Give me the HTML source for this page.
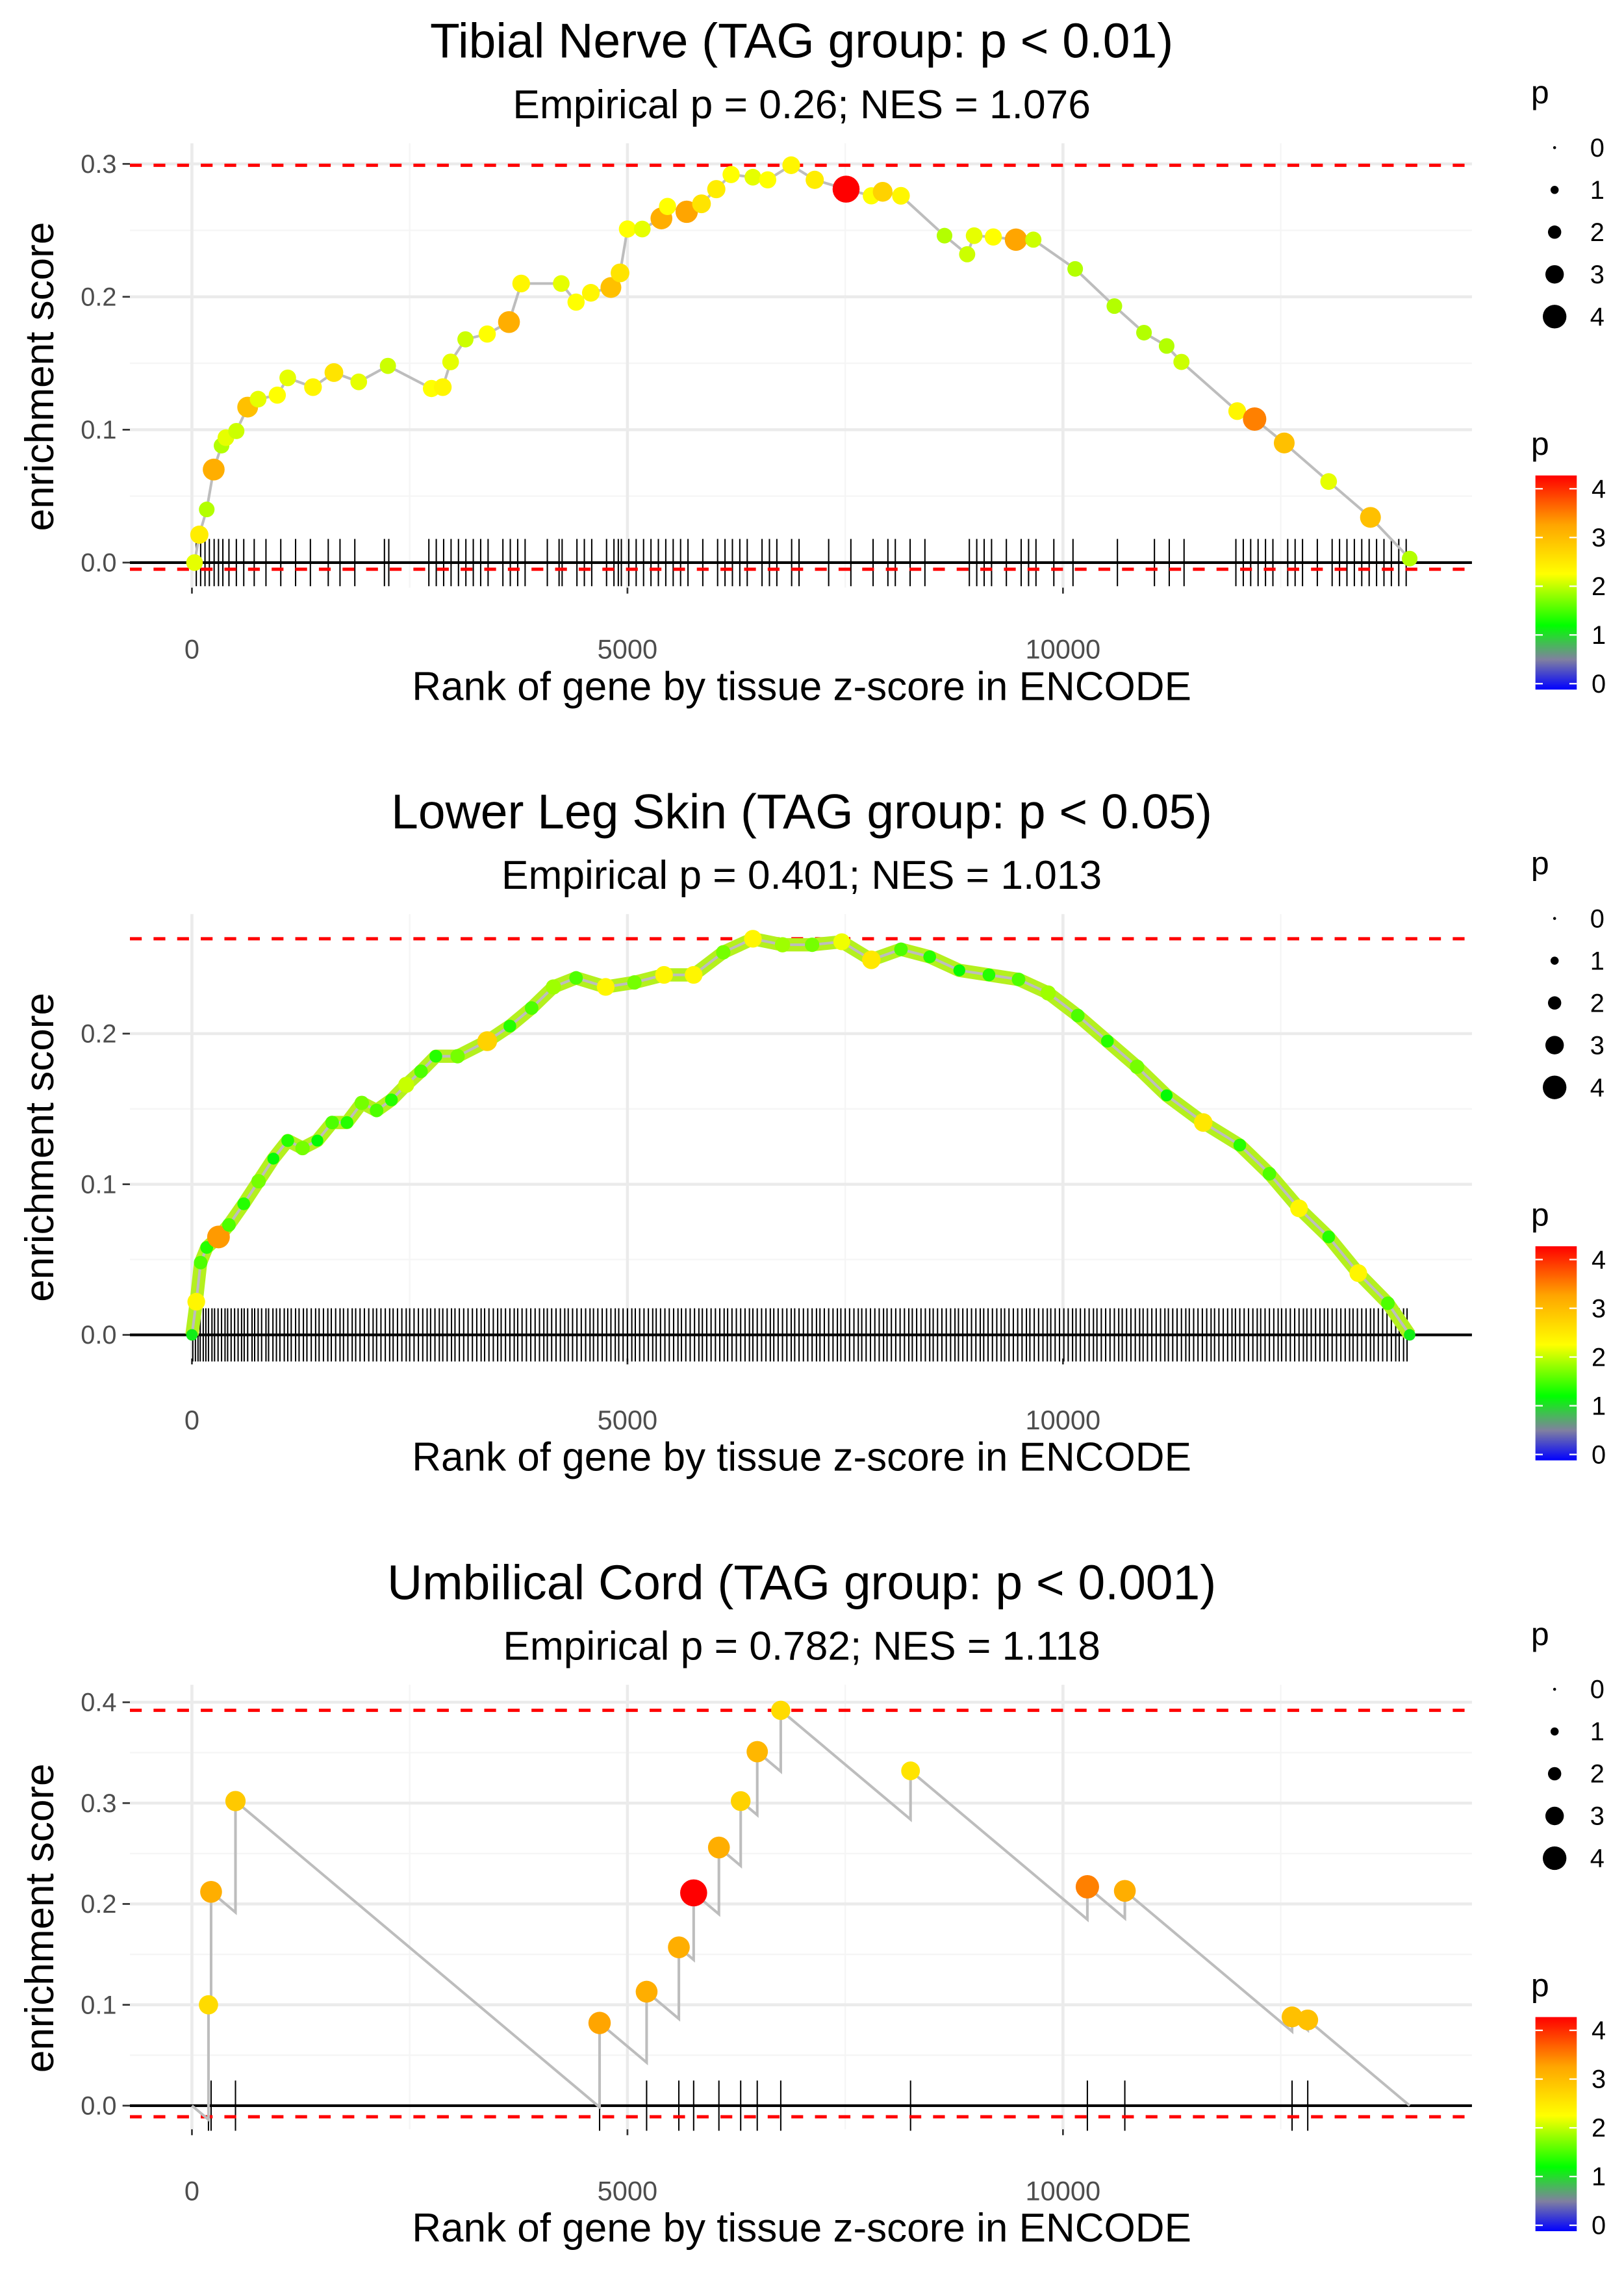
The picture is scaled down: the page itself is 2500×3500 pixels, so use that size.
<!DOCTYPE html>
<html><head><meta charset="utf-8">
<style>
html,body{margin:0;padding:0;background:#fff;}
svg{display:block;font-family:"Liberation Sans",Arial,sans-serif;}
</style></head>
<body>
<svg id="chart" width="2500" height="3500" viewBox="0 0 1100 1540" preserveAspectRatio="none" xmlns="http://www.w3.org/2000/svg">
<defs>
<linearGradient id="pgrad" x1="0" y1="1" x2="0" y2="0">
<stop offset="0" stop-color="#0000ff"/>
<stop offset="0.14" stop-color="#8080a0"/>
<stop offset="0.30" stop-color="#00ff00"/>
<stop offset="0.54" stop-color="#ffff00"/>
<stop offset="0.77" stop-color="#ffa500"/>
<stop offset="1" stop-color="#ff0000"/>
</linearGradient>
</defs>
</svg>
<script>
// ---------- Panel 1: Tibial Nerve ----------
const p1Ranks=[30,85,170,250,340,390,510,640,760,980,1100,1390,1630,1915,2250,2750,2880,2970,3140,3390,3640,3780,4240,4410,4580,4810,4915,5000,5170,5390,5460,5680,5850,6020,6190,6440,6610,6880,7150,7510,7800,7930,8140,8640,8900,8980,9200,9460,9660,10140,10590,10930,11190,11360,12000,12200,12540,13050,13530,13980];
const p1ES=[0.0,0.021,0.04,0.07,0.088,0.094,0.099,0.117,0.123,0.126,0.139,0.132,0.143,0.136,0.148,0.131,0.132,0.151,0.168,0.172,0.181,0.21,0.21,0.196,0.203,0.207,0.218,0.251,0.251,0.259,0.268,0.264,0.27,0.281,0.292,0.29,0.288,0.299,0.288,0.281,0.276,0.279,0.276,0.246,0.232,0.246,0.245,0.243,0.243,0.221,0.193,0.173,0.163,0.151,0.114,0.108,0.09,0.061,0.034,0.003];
const p1P=[2.2,2.5,2.0,3.2,2.0,2.2,2.1,3.0,2.2,2.3,2.2,2.4,2.6,2.2,2.1,2.3,2.4,2.2,2.1,2.3,3.2,2.4,2.2,2.3,2.4,3.0,2.6,2.3,2.2,3.2,2.3,3.3,2.6,2.5,2.3,2.2,2.3,2.4,2.5,4.2,2.3,2.8,2.4,2.0,2.1,2.2,2.3,3.3,2.1,2.0,2.0,2.0,2.0,2.1,2.4,3.5,3.0,2.2,3.0,2.0];
const p1Rug=[50,100,150,200,255,305,355,425,510,595,715,850,1020,1190,1360,1565,1700,1870,2210,2260,2720,2805,2890,2975,3060,3145,3230,3315,3400,3570,3655,3740,3825,4080,4215,4250,4420,4505,4590,4760,4845,4895,4930,5015,5100,5185,5270,5355,5440,5525,5610,5695,5865,6035,6120,6205,6290,6375,6545,6630,6715,6885,6970,7310,7565,7820,7990,8075,8245,8415,8925,9010,9095,9180,9350,9520,9605,9690,9895,10115,10625,11050,11220,11390,11985,12070,12155,12240,12325,12410,12580,12665,12750,12920,13090,13175,13260,13345,13430,13515,13600,13685,13770,13855,13940];
const p1YTicks=[0,0.1,0.2,0.3];
const p1Lines=[0.299,-0.005];

// ---------- Panel 2: Lower Leg Skin ----------
const p2Ranks=[0,50,100,170,305,425,595,765,935,1100,1270,1440,1610,1780,1950,2120,2290,2460,2630,2800,3050,3390,3650,3900,4150,4410,4750,5080,5420,5760,6100,6440,6780,7120,7460,7800,8140,8470,8810,9150,9490,9830,10170,10510,10850,11190,11610,12030,12370,12710,13050,13390,13730,13980];
const p2ES=[0,0.022,0.048,0.058,0.065,0.073,0.087,0.102,0.117,0.129,0.124,0.129,0.141,0.141,0.154,0.149,0.156,0.166,0.175,0.185,0.185,0.195,0.205,0.217,0.231,0.237,0.231,0.234,0.239,0.239,0.254,0.263,0.259,0.259,0.261,0.249,0.256,0.251,0.242,0.239,0.236,0.227,0.212,0.195,0.178,0.159,0.141,0.126,0.107,0.084,0.065,0.041,0.021,0];
const p2P=[1.5,3.0,2.0,1.8,4.2,2.0,1.8,2.2,1.6,1.8,2.2,1.6,2.0,1.8,2.2,2.0,1.8,2.6,2.0,1.8,2.2,3.5,1.8,2.0,2.4,2.0,3.0,2.2,3.0,3.0,2.2,3.0,2.4,2.2,2.8,3.2,2.0,1.8,1.6,1.8,2.0,2.4,2.0,1.8,2.2,1.6,3.2,1.8,2.0,3.0,1.8,3.0,2.0,1.5];
const p2Rug=[10,40,70,95,130,160,190,230,260,300,340,380,410,450,490,530,570,600,640,690,720,760,800,850,880,930,970,1010,1060,1100,1140,1190,1230,1280,1320,1370,1420,1460,1510,1560,1600,1650,1700,1740,1790,1840,1880,1930,1980,2030,2080,2120,2170,2220,2270,2310,2360,2410,2460,2500,2550,2600,2650,2700,2740,2790,2840,2880,2930,2980,3020,3070,3120,3170,3220,3270,3320,3360,3410,3460,3510,3550,3600,3650,3700,3740,3790,3840,3890,3940,3990,4040,4080,4130,4180,4230,4280,4320,4370,4420,4470,4520,4570,4610,4660,4710,4760,4810,4860,4900,4950,5000,5050,5090,5140,5190,5240,5290,5330,5380,5430,5480,5530,5580,5620,5670,5720,5770,5820,5860,5910,5960,6010,6060,6110,6150,6200,6250,6300,6350,6400,6440,6490,6540,6590,6640,6680,6730,6780,6830,6880,6920,6970,7020,7070,7120,7170,7210,7260,7310,7360,7410,7450,7500,7550,7600,7650,7690,7740,7790,7840,7890,7940,7980,8030,8080,8130,8180,8230,8270,8320,8370,8420,8470,8510,8560,8610,8660,8710,8760,8800,8850,8900,8950,9000,9050,9090,9140,9190,9240,9290,9330,9380,9430,9480,9530,9580,9620,9670,9720,9770,9820,9860,9910,9960,10010,10060,10110,10150,10200,10250,10300,10350,10390,10440,10490,10540,10590,10640,10680,10730,10780,10830,10880,10920,10970,11020,11070,11120,11170,11210,11260,11310,11360,11410,11450,11500,11550,11600,11650,11700,11740,11790,11840,11890,11940,11980,12030,12080,12130,12180,12230,12270,12320,12370,12420,12470,12510,12560,12610,12660,12710,12760,12800,12850,12900,12950,13000,13040,13090,13140,13190,13240,13290,13330,13380,13430,13480,13530,13570,13620,13670,13720,13770,13820,13860,13910,13950];
const p2YTicks=[0,0.1,0.2];
const p2Lines=[0.263];

// ---------- Panel 3: Umbilical Cord ----------
const p3Ranks=[190,220,500,4680,5220,5590,5760,6050,6300,6490,6760,8250,10280,10710,12630,12810];
const p3ES=[0.10,0.212,0.302,0.082,0.113,0.157,0.211,0.256,0.302,0.351,0.392,0.332,0.217,0.213,0.088,0.085];
const p3P=[2.7,3.2,2.9,3.3,3.2,3.2,4.2,3.2,2.8,3.1,2.7,2.6,3.5,3.2,3.0,3.0];
const p3Decay=0.0000726;
const p3End=13980;
const p3YTicks=[0,0.1,0.2,0.3,0.4];
const p3Lines=[0.392,-0.011];

const xTicks=[0,5000,10000];
const legendVals=[0,1,2,3,4];

const svg=document.getElementById('chart');
const NS='http://www.w3.org/2000/svg';
function mk(tag,attrs,parent,text){const e=document.createElementNS(NS,tag);for(const k in attrs)e.setAttribute(k,attrs[k]);if(text!==undefined)e.textContent=text;(parent||svg).appendChild(e);return e;}
const stops=[[0,[0,0,255]],[0.6,[128,128,160]],[1.3,[0,255,0]],[2.3,[255,255,0]],[3.3,[255,165,0]],[4.2,[255,0,0]]];
function pcol(p){if(p<=stops[0][0])return 'rgb(0,0,255)';for(let i=1;i<stops.length;i++){if(p<=stops[i][0]){const a=stops[i-1],b=stops[i];const t=(p-a[0])/(b[0]-a[0]);const c=a[1].map((v,j)=>Math.round(v+(b[1][j]-v)*t));return `rgb(${c})`;}}return 'rgb(255,0,0)';}
function prad(p){return 1.8+1.75*p;}

function panel(o,cfg){
  const xS=r=>130+r*0.059;
  const yS=v=>cfg.y0+o-v*cfg.k;
  const g=mk('g',{});
  
  
  const L=88,R=997,T=97+o,B=398+o;
  [2500,7500,12500].forEach(r=>mk('line',{x1:xS(r),x2:xS(r),y1:T,y2:B,stroke:'#f5f5f5','stroke-width':1},g));
  for(let i=0;i<cfg.yt.length-1;i++){const v=(cfg.yt[i]+cfg.yt[i+1])/2;mk('line',{x1:L,x2:R,y1:yS(v),y2:yS(v),stroke:'#f5f5f5','stroke-width':1},g);}
  xTicks.forEach(r=>mk('line',{x1:xS(r),x2:xS(r),y1:T,y2:B,stroke:'#ebebeb','stroke-width':2},g));
  cfg.yt.forEach(v=>{mk('line',{x1:L,x2:R,y1:yS(v),y2:yS(v),stroke:'#ebebeb','stroke-width':2},g);
    mk('line',{x1:83,x2:88,y1:yS(v),y2:yS(v),stroke:'#333','stroke-width':1.2},g);
    const t=mk('text',{x:79,y:yS(v)+6,'text-anchor':'end','font-size':17.5,fill:'#4d4d4d'},g,v.toFixed(1));
    });
  xTicks.forEach(r=>{mk('line',{x1:xS(r),x2:xS(r),y1:B,y2:B+4,stroke:'#333','stroke-width':1.2},g);
    const t=mk('text',{x:xS(r),y:446+o,'text-anchor':'middle','font-size':18.3,fill:'#4d4d4d'},g,String(r));
    });
  const rug=mk('g',{},g);
  cfg.rug.forEach(r=>{mk('line',{x1:xS(r),x2:xS(r),y1:yS(0)-cfg.rugH,y2:yS(0)+cfg.rugH,stroke:'#000','stroke-width':0.9},rug);});
  mk('line',{x1:L,x2:R,y1:yS(0),y2:yS(0),stroke:'#000','stroke-width':1.8},g);
  cfg.lines.forEach(v=>{const l=mk('line',{x1:L,x2:R,y1:yS(v),y2:yS(v),stroke:'#ff0000','stroke-width':2.2,'stroke-dasharray':'8 8'},g);
    });
  let pts=cfg.path.map(([r,v])=>xS(r).toFixed(2)+','+yS(v).toFixed(2)).join(' ');
  if(cfg.thick){const th=mk('polyline',{points:pts,fill:'none',stroke:'#b4f01e','stroke-width':9,'stroke-linejoin':'round'},g);}
  const pl=mk('polyline',{points:pts,fill:'none',stroke:'#bdbdbd','stroke-width':1.8},g);
  
  cfg.ranks.forEach((r,i)=>{const c=mk('circle',{cx:xS(r),cy:yS(cfg.es[i]),r:prad(cfg.p[i]),fill:pcol(cfg.p[i])},g);
    });
  let t=mk('text',{x:543,y:39+o,'text-anchor':'middle','font-size':33,fill:'#000'},g,cfg.title);
  t=mk('text',{x:543,y:80+o,'text-anchor':'middle','font-size':27.4,fill:'#000'},g,cfg.sub);
  t=mk('text',{x:543,y:474+o,'text-anchor':'middle','font-size':27.3,fill:'#000'},g,'Rank of gene by tissue z-score in ENCODE');
  t=mk('text',{x:0,y:0,'text-anchor':'middle','font-size':27.3,fill:'#000',transform:`translate(36,${255+o}) rotate(-90)`},g,'enrichment score');
  const lg=mk('g',{},g);
  mk('text',{x:1037,y:70+o,'font-size':22,fill:'#000'},lg,'p');
  legendVals.forEach((v,i)=>{const y=100+o+i*28.6;mk('circle',{cx:1053,cy:y,r:Math.max(1,1+1.75*v),fill:'#000'},lg);
    mk('text',{x:1077,y:y+6,'font-size':17.5,fill:'#000'},lg,String(v));});
  const cb=mk('g',{},g);
  mk('text',{x:1037,y:308+o,'font-size':22,fill:'#000'},cb,'p');
  mk('rect',{x:1040,y:322+o,width:28,height:145,fill:'url(#pgrad)'},cb);
  legendVals.forEach(v=>{const y=463+o-v*33;mk('line',{x1:1040,x2:1045,y1:y,y2:y,stroke:'#fff','stroke-width':1},cb);mk('line',{x1:1063,x2:1068,y1:y,y2:y,stroke:'#fff','stroke-width':1},cb);
    mk('text',{x:1078,y:y+6,'font-size':17.5,fill:'#000'},cb,String(v));});
}

panel(0,{name:'tibial-nerve-panel',y0:381,k:900,yt:p1YTicks,lines:p1Lines,rug:p1Rug,rugH:16,
  path:p1Ranks.map((r,i)=>[r,p1ES[i]]),ranks:p1Ranks,es:p1ES,p:p1P,
  title:'Tibial Nerve (TAG group: p < 0.01)',sub:'Empirical p = 0.26; NES = 1.076'});
panel(522,{name:'lower-leg-skin-panel',y0:382,k:1020,yt:p2YTicks,lines:p2Lines,rug:p2Rug,rugH:18,thick:true,
  path:p2Ranks.map((r,i)=>[r,p2ES[i]]),ranks:p2Ranks,es:p2ES,p:p2P.map(v=>v*0.8),
  title:'Lower Leg Skin (TAG group: p < 0.05)',sub:'Empirical p = 0.401; NES = 1.013'});
const p3Path=[[0,0]];
let prevR=0,prevE=0;
p3Ranks.forEach((r,i)=>{p3Path.push([r,prevE-p3Decay*(r-prevR)]);p3Path.push([r,p3ES[i]]);prevR=r;prevE=p3ES[i];});
p3Path.push([p3End,prevE-p3Decay*(p3End-prevR)]);
panel(1044,{name:'umbilical-cord-panel',y0:382,k:683,yt:p3YTicks,lines:p3Lines,rug:p3Ranks,rugH:17,
  path:p3Path,ranks:p3Ranks,es:p3ES,p:p3P,
  title:'Umbilical Cord (TAG group: p < 0.001)',sub:'Empirical p = 0.782; NES = 1.118'});
</script>
</body></html>
